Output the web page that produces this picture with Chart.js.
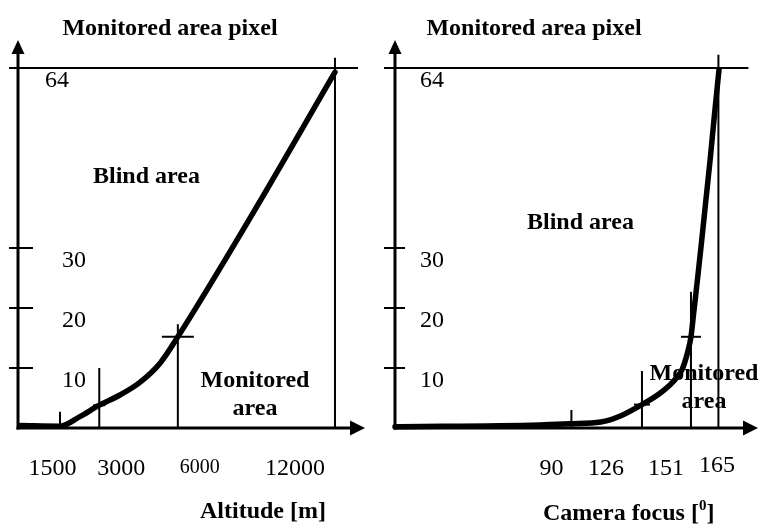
<!DOCTYPE html>
<html>
<head>
<meta charset="utf-8">
<script src="https://cdn.jsdelivr.net/npm/chart.js@4.4.1/dist/chart.umd.min.js"></script>
<style>
  html, body { margin: 0; padding: 0; background: #fff; }
  #wrap { position: relative; width: 761px; height: 525px; overflow: hidden; }
  canvas { position: absolute; top: 0; }
  #left { left: 0; }
  #right { left: 380px; }
</style>
</head>
<body>
<div id="wrap">
  <canvas id="left" width="380" height="525"></canvas>
  <canvas id="right" width="381" height="525"></canvas>
</div>
<script>
// -------------------------
// Datos
// -------------------------
const altitudeM      = [0, 1500, 2260, 3000, 3790, 4550, 5320, 6000, 8800, 12000];
const pixelsAltitude = [0.4, 0.3, 1.9, 3.8, 5.5, 7.6, 10.8, 15.2, 35.3, 59.3];
const altitudeTicks      = [1500, 3000, 6000, 12000];
const altitudeTickLabels = ['1500', '3000', '6000', '12000'];

const focusDeg    = [0, 74, 89, 105, 115, 126, 135.2, 141.8, 146.4, 149.2, 151, 152.4, 154.4, 156.4, 158.4, 160.8, 162.9, 165.3];
const pixelsFocus = [0.2, 0.5, 0.7, 1.0, 2.0, 3.9, 5.8, 7.7, 9.7, 12.5, 15.2, 19.2, 25.0, 31.0, 37.3, 44.8, 51.9, 59.7];
const focusTicks      = [90, 126, 151, 165];
const focusTickLabels = ['90', '126', '151', '165'];

const pixelTicks    = [10, 20, 30];
const pixelTopValue = 60;     // altura dibujada de la línea "64"
const pixelTopLabel = '64';

const SERIF = '"Liberation Serif", "Times New Roman", serif';
const BOLD = 'bold 24px ' + SERIF;
const REG = '24px ' + SERIF;

// -------------------------
// Configuración de cada panel
// -------------------------
const panelLeft = {
  xs: altitudeM, ys: pixelsAltitude,
  ticks: altitudeTicks, tickLabels: altitudeTickLabels,
  xMin: -103, xMax: 13146,
  padding: { left: 18, right: 15, top: 40, bottom: 97 },
  markerTop: [2.7, 10, 17.3, 61.7],
  crossAt: [null, 3.8, 15.2, null],
  crossHalf: [0, 6, 16, 0],
  labelShift: [-7.5, 22, 22, -40],
  labelFont: [REG, REG, '20px ' + SERIF, REG],
  labelBase: [475, 475, 473, 475],
  topLine: [9, 23],
  yTick: [9, 15],
  yLabelX: { top: 27, rest: 44 },
  texts: [
    { t: 'Monitored area pixel', x: 170, y: 35, align: 'center' },
    { t: 'Blind area', x: 93, y: 183, align: 'left' },
    { t: 'Monitored', x: 255, y: 387, align: 'center' },
    { t: 'area', x: 255, y: 415, align: 'center' },
    { t: 'Altitude [m]', x: 200, y: 518, align: 'left' }
  ],
  sup: null
};

const panelRight = {
  xs: focusDeg, ys: pixelsFocus,
  ticks: focusTicks, tickLabels: focusTickLabels,
  xMin: 0, xMax: 185.2,
  padding: { left: 15, right: 3, top: 40, bottom: 97 },
  markerTop: [3, 9.5, 22.7, 62.2],
  crossAt: [null, 3.9, 15.2, null],
  crossHalf: [0, 8, 10, 0],
  labelShift: [-20, -36, -25, -1.5],
  labelFont: [REG, REG, REG, REG],
  labelBase: [475, 475, 475, 472],
  topLine: [11, 30],
  yTick: [11, 10],
  yLabelX: { top: 25, rest: 25 },
  texts: [
    { t: 'Monitored area pixel', x: 154, y: 35, align: 'center' },
    { t: 'Blind area', x: 147, y: 229, align: 'left' },
    { t: 'Monitored', x: 324, y: 380, align: 'center' },
    { t: 'area', x: 324, y: 408, align: 'center' }
  ],
  sup: { pre: 'Camera focus [', s: '0', post: ']', x: 163, y: 520 }
};

// -------------------------
// Dibujo de ejes y anotaciones
// -------------------------
function line(ctx, x1, y1, x2, y2, w) {
  ctx.beginPath();
  ctx.lineWidth = w;
  ctx.moveTo(x1, y1);
  ctx.lineTo(x2, y2);
  ctx.stroke();
}

const schemePlugin = {
  id: 'scheme',
  beforeDatasetsDraw(chart, args, opts) {
    const cfg = opts.cfg;
    const ctx = chart.ctx;
    const X = v => chart.scales.x.getPixelForValue(v);
    const Y = v => chart.scales.y.getPixelForValue(v);
    const area = chart.chartArea;
    const ax = area.left, ay = Y(0);

    ctx.save();
    ctx.strokeStyle = '#000';
    ctx.fillStyle = '#000';
    ctx.lineCap = 'butt';

    // textos
    ctx.font = BOLD;
    ctx.textBaseline = 'alphabetic';
    cfg.texts.forEach(t => {
      ctx.textAlign = t.align;
      ctx.fillText(t.t, t.x, t.y);
    });
    if (cfg.sup) {
      const s = cfg.sup;
      ctx.textAlign = 'left';
      ctx.font = BOLD;
      ctx.fillText(s.pre, s.x, s.y);
      let w = ctx.measureText(s.pre).width;
      ctx.font = 'bold 15px ' + SERIF;
      ctx.fillText(s.s, s.x + w, s.y - 10);
      w += ctx.measureText(s.s).width;
      ctx.font = BOLD;
      ctx.fillText(s.post, s.x + w, s.y);
    }

    // ejes con flechas
    line(ctx, ax, ay + 1.5, ax, area.top + 12, 3);
    ctx.beginPath();
    ctx.moveTo(ax, area.top);
    ctx.lineTo(ax - 6.5, area.top + 14);
    ctx.lineTo(ax + 6.5, area.top + 14);
    ctx.closePath();
    ctx.fill();

    line(ctx, ax - 1.5, ay, area.right - 13, ay, 3);
    ctx.beginPath();
    ctx.moveTo(area.right, ay);
    ctx.lineTo(area.right - 15, ay - 7.5);
    ctx.lineTo(area.right - 15, ay + 7.5);
    ctx.closePath();
    ctx.fill();

    // línea superior (64)
    const lastX = X(cfg.ticks[cfg.ticks.length - 1]);
    line(ctx, ax - cfg.topLine[0], Y(pixelTopValue), lastX + cfg.topLine[1], Y(pixelTopValue), 2);

    // marcas del eje Y y etiquetas
    ctx.font = REG;
    ctx.textAlign = 'left';
    pixelTicks.forEach(v => {
      line(ctx, ax - cfg.yTick[0], Y(v), ax + cfg.yTick[1], Y(v), 2);
      ctx.fillText(String(v), ax + cfg.yLabelX.rest, Y(v) + 18.5);
    });
    ctx.fillText(pixelTopLabel, ax + cfg.yLabelX.top, Y(pixelTopValue) + 19);

    // marcas verticales del eje X
    cfg.ticks.forEach((v, i) => {
      const px = X(v);
      line(ctx, px, ay, px, Y(cfg.markerTop[i]), 2);
      if (cfg.crossAt[i] !== null) {
        const cy = Y(cfg.crossAt[i]);
        line(ctx, px - cfg.crossHalf[i], cy, px + cfg.crossHalf[i], cy, 2);
      }
      ctx.font = cfg.labelFont[i];
      ctx.textAlign = 'center';
      ctx.fillText(cfg.tickLabels[i], px + cfg.labelShift[i], cfg.labelBase[i]);
    });

    ctx.restore();
  }
};

// -------------------------
// Gráficas
// -------------------------
function crearPanel(canvasId, cfg) {
  const ctx = document.getElementById(canvasId);
  if (!ctx) return;

  new Chart(ctx, {
    type: 'line',
    data: {
      datasets: [{
        data: cfg.xs.map((x, i) => ({ x: x, y: cfg.ys[i] })),
        borderColor: '#000',
        borderWidth: 5.5,
        borderCapStyle: 'round',
        borderJoinStyle: 'round',
        pointRadius: 0,
        cubicInterpolationMode: 'monotone',
        fill: false,
        clip: false
      }]
    },
    options: {
      responsive: false,
      maintainAspectRatio: false,
      animation: false,
      events: [],
      layout: { padding: cfg.padding },
      scales: {
        x: { type: 'linear', min: cfg.xMin, max: cfg.xMax, display: false },
        y: { type: 'linear', min: 0, max: 388 / 6, display: false }
      },
      plugins: {
        legend: { display: false },
        tooltip: { enabled: false },
        scheme: { cfg: cfg }
      }
    },
    plugins: [schemePlugin]
  });
}

crearPanel('left', panelLeft);
crearPanel('right', panelRight);
</script>
</body>
</html>
